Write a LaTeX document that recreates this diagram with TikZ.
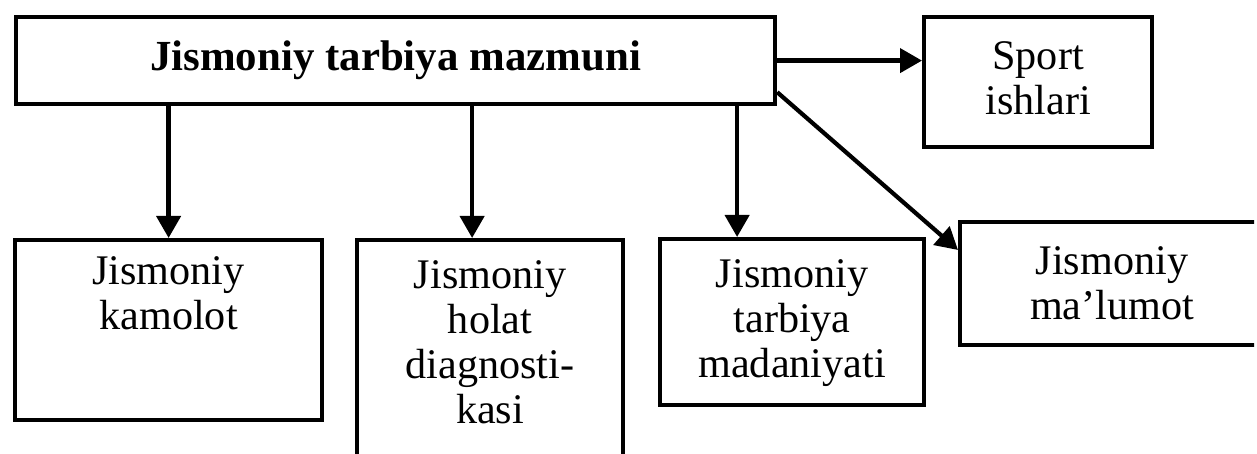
\documentclass[tikz,border=0pt]{standalone}
\usepackage{fontspec}
\setmainfont{Liberation Serif}
\usetikzlibrary{arrows.meta}
\usetikzlibrary{positioning,calc}

\begin{document}
\begin{tikzpicture}[x=0.1mm, y=-0.1mm,
	  box/.style={draw, line width=1.2pt, inner sep=0pt},
	  txt/.style={align=center, inner sep=0pt, font=\fontsize{12}{12.8}\selectfont},
	  arr/.style={line width=1.2pt, -{Triangle[length=2.2mm,width=2.4mm]}}]
	  \useasboundingbox (0,0) rectangle (1257,454);
	  \clip (0,0) rectangle (1254,454);
	  \node[box, anchor=north west, minimum width=75.9mm, minimum height=8.7mm,
	    font=\bfseries\fontsize{12.2}{14}\selectfont] (mazmuni) at (14,15) {Jismoniy tarbiya mazmuni};
	  \node[box, anchor=north west, minimum width=22.8mm, minimum height=13mm] (sport) at (922,15) {};
	  \node[txt] (sporttxt) at ([yshift=0.4mm]sport.center) {Sport\\ishlari};
	  \node[box, anchor=north west, minimum width=30.7mm, minimum height=18mm] (kamolot) at (13,238) {};
	  \node[txt, below=1.8mm of kamolot.north] (kamolottxt) {Jismoniy\\kamolot};
	  \node[box, anchor=north west, minimum width=26.6mm, minimum height=25mm] (diagnostika) at (355,238) {};
	  \node[txt, below=2.2mm of diagnostika.north] (diagnostikatxt) {Jismoniy\\holat\\diagnosti-\\kasi};
	  \node[box, anchor=north west, minimum width=26.4mm, minimum height=16.6mm] (madaniyat) at (658,237) {};
	  \node[txt, below=2.2mm of madaniyat.north] (madaniyattxt) {Jismoniy\\tarbiya\\madaniyati};
	  \node[box, anchor=north west, minimum width=40mm, minimum height=12.3mm] (malumot) at (958,220) {};
	  \node[txt] (malumottxt) at ([xshift=15.4mm]malumot.west) {Jismoniy\\ma’lumot};
	  \coordinate (dtop) at ([xshift=-1.8mm]diagnostika.north);
	  \coordinate (mtop) at ([xshift=-5.5mm]madaniyat.north);
	  \draw[arr] (mazmuni.south -| kamolot.north) -- (kamolot.north);
	  \draw[arr] (dtop |- mazmuni.south) -- (dtop);
	  \draw[arr] (mtop |- mazmuni.south) -- (mtop);
	  \draw[arr] (mazmuni.east) -- (mazmuni.east -| sport.west);
	  \draw[arr] ([yshift=1.4mm]mazmuni.south east) -- ([yshift=-3mm]malumot.north west);
	\end{tikzpicture}
\end{document}
